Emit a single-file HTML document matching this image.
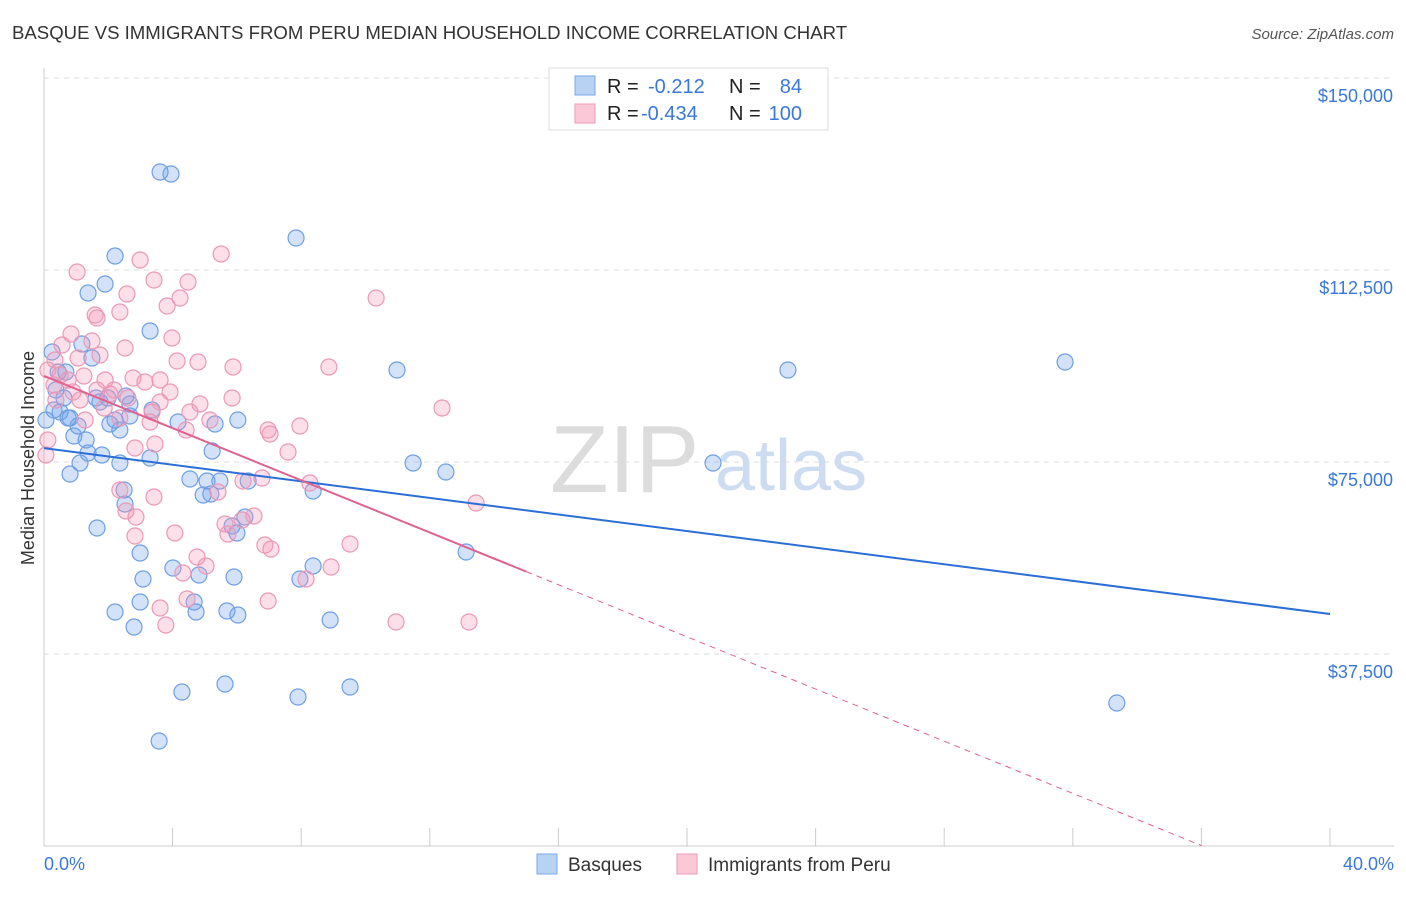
<!DOCTYPE html>
<html><head><meta charset="utf-8"><style>
body{margin:0;background:#fff;font-family:"Liberation Sans",sans-serif;}
svg text{font-family:"Liberation Sans",sans-serif;}
</style></head><body>
<svg id="chart" width="1406" height="892" xmlns="http://www.w3.org/2000/svg">
<text x="12" y="39" font-size="18.6" fill="#333">BASQUE VS IMMIGRANTS FROM PERU MEDIAN HOUSEHOLD INCOME CORRELATION CHART</text>
<text x="1394" y="39" font-size="15" fill="#555" text-anchor="end" font-style="italic">Source: ZipAtlas.com</text>
<g id="grid"></g>
<text x="550" y="492" font-size="96" fill="#dcdcdc">ZIP</text>
<text x="715" y="490" font-size="72" fill="#cddcf0">atlas</text>
<g id="pts"></g>
<g id="lines"></g>
<text transform="translate(34,458) rotate(-90)" font-size="18" fill="#333" text-anchor="middle">Median Household Income</text>
<text x="44" y="870" font-size="18" fill="#3a78d8">0.0%</text>
<text x="1394" y="870" font-size="18" fill="#3a78d8" text-anchor="end">40.0%</text>
<g>
<rect x="549" y="68" width="279" height="62" fill="#fff" stroke="#ddd"/>
<rect x="575" y="76" width="20" height="19" fill="#b8d2f4" stroke="#7aa8e8"/>
<rect x="575" y="104" width="20" height="19" fill="#fbc8d8" stroke="#ec9ab6"/>
<text x="607" y="93" font-size="20" fill="#222">R = </text><text x="648" y="93" font-size="20" fill="#3a78d8">-0.212</text>
<text x="729" y="93" font-size="20" fill="#222">N = </text><text x="802" y="93" font-size="20" fill="#3a78d8" text-anchor="end">84</text>
<text x="607" y="120" font-size="20" fill="#222">R = </text><text x="641" y="120" font-size="20" fill="#3a78d8">-0.434</text>
<text x="729" y="120" font-size="20" fill="#222">N = </text><text x="802" y="120" font-size="20" fill="#3a78d8" text-anchor="end">100</text>
</g>
<g>
<rect x="537" y="854" width="20" height="20" fill="#b8d2f4" stroke="#7aa8e8"/>
<text x="568" y="871" font-size="19" fill="#333">Basques</text>
<rect x="677" y="854" width="20" height="20" fill="#fbc8d8" stroke="#ec9ab6"/>
<text x="708" y="871" font-size="19" fill="#333">Immigrants from Peru</text>
</g>
</svg>
<script>
const yTicks=[37500,75000,112500,150000];
const yTickLabels=["$37,500","$75,000","$112,500","$150,000"];
const xTicks=[0,4,8,12,16,20,24,28,32,36,40];
const bluePx=[[160,172],[171,174],[296,238],[115,256],[88,293],[105,284],[150,331],[92,358],[82,344],[52,352],[58,372],[64,398],[56,390],[60,412],[70,418],[74,436],[78,426],[96,398],[100,402],[110,424],[115,420],[130,416],[130,404],[152,410],[178,422],[238,420],[215,424],[397,370],[788,370],[1065,362],[713,463],[413,463],[446,472],[120,463],[80,463],[88,453],[102,455],[70,474],[150,458],[212,451],[190,479],[207,481],[220,481],[248,481],[203,495],[211,494],[124,490],[125,504],[97,528],[237,533],[245,517],[232,526],[313,491],[466,552],[140,553],[173,568],[199,575],[143,579],[234,577],[313,566],[300,579],[140,602],[194,602],[115,612],[196,612],[227,611],[238,615],[134,627],[330,620],[182,692],[225,684],[298,697],[350,687],[1117,703],[159,741],[46,420],[66,372],[68,418],[108,398],[126,396],[54,410],[86,440],[120,430]];
const pinkPx=[[77,272],[140,260],[154,280],[188,282],[221,254],[180,298],[167,306],[127,294],[120,312],[95,315],[97,318],[376,298],[71,334],[92,341],[125,348],[172,338],[62,345],[55,360],[78,358],[177,361],[198,362],[233,367],[329,367],[48,370],[60,375],[68,380],[84,376],[105,380],[145,382],[160,380],[133,378],[170,392],[54,385],[73,392],[97,390],[110,394],[114,390],[128,398],[160,402],[200,404],[232,398],[442,408],[190,412],[210,420],[104,408],[152,412],[56,400],[85,420],[120,418],[268,430],[300,426],[186,430],[150,422],[270,434],[135,448],[155,444],[288,452],[262,478],[310,483],[243,481],[120,490],[218,492],[154,497],[476,503],[126,511],[136,517],[225,524],[228,534],[242,520],[254,516],[175,533],[135,536],[265,545],[271,549],[350,544],[197,557],[306,579],[331,567],[183,573],[206,566],[187,599],[160,608],[268,601],[166,625],[396,622],[469,622],[48,440],[46,455],[80,400],[100,355]];
// convert picture positions into data values (x %, y $)
const basqueX=bluePx.map(p=>+((p[0]-44)/32.15).toFixed(2));
const basqueY=bluePx.map(p=>Math.round((846-p[1])*195.3));
const peruX=pinkPx.map(p=>+((p[0]-44)/32.15).toFixed(2));
const peruY=pinkPx.map(p=>Math.round((846-p[1])*195.3));
const basqueTrend=[77700,45300];
const peruTrend=[91800,-10100];
const peruSolidEnd=15;
const NS="http://www.w3.org/2000/svg";
const X=v=>44+v*32.15, Y=v=>846-v/195.3;
function mk(t,a,parent){const e=document.createElementNS(NS,t);for(const k in a)e.setAttribute(k,a[k]);parent.appendChild(e);return e;}
const grid=document.getElementById('grid');
yTicks.forEach((t,i)=>{
 const l=mk('line',{x1:44,x2:1394,y1:Y(t),y2:Y(t),stroke:'#ddd','stroke-dasharray':'5,5'},grid);
 
 
 const tx=mk('text',{x:1393,y:Y(t)+24,'font-size':18,fill:'#3a78d8','text-anchor':'end'},grid);
 tx.textContent=yTickLabels[i];
 
 
});
const ax=mk('line',{x1:44,x2:1394,y1:846,y2:846,stroke:'#ccc'},grid);


const ay=mk('line',{x1:44,x2:44,y1:68,y2:846,stroke:'#ccc'},grid);


xTicks.forEach(t=>{
 const l=mk('line',{x1:X(t),x2:X(t),y1:828,y2:846,stroke:'#ccc'},grid);
 
 
});
const pts=document.getElementById('pts');
basqueX.forEach((x,i)=>{
 const c=mk('circle',{cx:X(x),cy:Y(basqueY[i]),r:8,fill:'rgba(110,160,235,0.3)',stroke:'#6f9fe3','stroke-width':1.2},pts);
 
 
});
peruX.forEach((x,i)=>{
 const c=mk('circle',{cx:X(x),cy:Y(peruY[i]),r:8,fill:'rgba(245,150,180,0.3)',stroke:'#eb98b6','stroke-width':1.2},pts);
 
 
});
const lines=document.getElementById('lines');
const bl=mk('line',{x1:X(0),y1:Y(basqueTrend[0]),x2:X(40),y2:Y(basqueTrend[1]),stroke:'#2b6fd6','stroke-width':2},lines);


const pv=x=>peruTrend[0]+(peruTrend[1]-peruTrend[0])*x/40;
const ps=mk('line',{x1:X(0),y1:Y(pv(0)),x2:X(peruSolidEnd),y2:Y(pv(peruSolidEnd)),stroke:'#e0628f','stroke-width':2},lines);


const xe=36.0;
const pd=mk('line',{x1:X(peruSolidEnd),y1:Y(pv(peruSolidEnd)),x2:X(xe),y2:Y(pv(xe)),stroke:'#e0628f','stroke-width':1,'stroke-dasharray':'6,5'},lines);


</script>
</body></html>
